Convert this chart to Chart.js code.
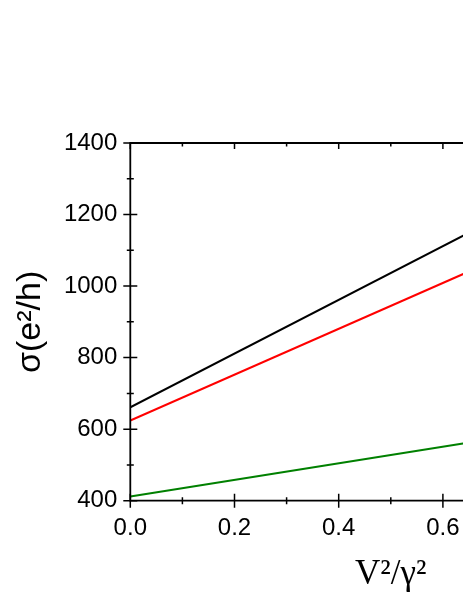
<!DOCTYPE html>
<html>
<head>
<meta charset="utf-8">
<script src="https://cdn.jsdelivr.net/npm/chart.js@4.4.0/dist/chart.umd.min.js"></script>
<style>
  html, body { margin: 0; padding: 0; overflow: hidden; background: #fff; }
</style>
</head>
<body>
<canvas id="chart" width="700" height="599"></canvas>
<script>
// values (straight lines, endpoints)
const xValues = [0, 1.0];
const blackLine = [661, 1412];
const redLine = [624, 1265];
const greenLine = [412, 644];
const xTicks = [0, 0.2, 0.4, 0.6, 0.8, 1.0];
const yTicks = [400, 600, 800, 1000, 1200, 1400];

function toPoints(ys) {
  return xValues.map((x, i) => ({ x: x, y: ys[i] }));
}

// frame with ticks crossing the axis, like the original plot
const frame = {
  id: 'frame',
  afterDraw(chart) {
    const ctx = chart.ctx;
    const a = chart.chartArea;
    const xs = chart.scales.x;
    const ys = chart.scales.y;
    ctx.save();
    ctx.strokeStyle = '#000';
    ctx.lineWidth = 1.8;
    ctx.beginPath();
    ctx.moveTo(a.right, a.top);
    ctx.lineTo(a.left, a.top);
    ctx.lineTo(a.left, a.bottom);
    ctx.lineTo(a.right, a.bottom);
    ctx.stroke();

    ctx.lineWidth = 1.5;
    ctx.beginPath();
    for (let i = 0; i < xTicks.length; i++) {
      const px = xs.getPixelForValue(xTicks[i]);
      ctx.moveTo(px, a.bottom - 7); ctx.lineTo(px, a.bottom + 7);
      ctx.moveTo(px, a.top); ctx.lineTo(px, a.top + 6);
      if (i < xTicks.length - 1) {
        const mx = xs.getPixelForValue((xTicks[i] + xTicks[i + 1]) / 2);
        ctx.moveTo(mx, a.bottom - 3.5); ctx.lineTo(mx, a.bottom + 3.5);
        ctx.moveTo(mx, a.top); ctx.lineTo(mx, a.top + 3.5);
      }
    }
    for (let i = 0; i < yTicks.length; i++) {
      const py = ys.getPixelForValue(yTicks[i]);
      ctx.moveTo(a.left - 7, py); ctx.lineTo(a.left + 7, py);
      if (i < yTicks.length - 1) {
        const my = ys.getPixelForValue((yTicks[i] + yTicks[i + 1]) / 2);
        ctx.moveTo(a.left - 3.5, my); ctx.lineTo(a.left + 3.5, my);
      }
    }
    ctx.stroke();
    ctx.restore();
  }
};

new Chart(document.getElementById('chart').getContext('2d'), {
  type: 'scatter',
  data: {
    datasets: [
      { data: toPoints(blackLine), borderColor: '#000000' },
      { data: toPoints(redLine), borderColor: '#ff0000' },
      { data: toPoints(greenLine), borderColor: '#008000' }
    ].map(d => Object.assign(d, { showLine: true, pointRadius: 0, borderWidth: 2, fill: false }))
  },
  options: {
    responsive: false,
    animation: false,
    layout: { padding: { top: 143, right: 48.7, left: 0, bottom: 0 } },
    plugins: { legend: { display: false }, tooltip: { enabled: false } },
    scales: {
      x: {
        type: 'linear',
        min: 0, max: 1.0,
        afterFit(s) { s.height = 98.3; },
        afterBuildTicks(s) { s.ticks = xTicks.map(v => ({ value: v })); },
        grid: { display: false, drawTicks: false },
        border: { display: false },
        ticks: {
          padding: 13,
          color: '#000',
          font: { family: 'Liberation Sans, Arial, sans-serif', size: 24 },
          callback: v => v.toFixed(1)
        },
        title: {
          display: true,
          text: 'V²/γ²',
          color: '#000',
          font: { family: 'Liberation Serif, Times New Roman, serif', size: 35 },
          padding: { top: 0, bottom: 3 }
        }
      },
      y: {
        min: 400, max: 1400,
        afterFit(s) { s.width = 130.3; },
        afterBuildTicks(s) { s.ticks = yTicks.map(v => ({ value: v })); },
        grid: { display: false, drawTicks: false },
        border: { display: false },
        ticks: {
          padding: 13,
          color: '#000',
          font: { family: 'Liberation Sans, Arial, sans-serif', size: 24 },
          callback: v => String(v)
        },
        title: {
          display: true,
          text: 'σ(e²/h)',
          color: '#000',
          font: { family: 'Liberation Sans, Arial, sans-serif', size: 34 },
          padding: { top: 10, bottom: 0 }
        }
      }
    }
  },
  plugins: [frame]
});
</script>
</body>
</html>
